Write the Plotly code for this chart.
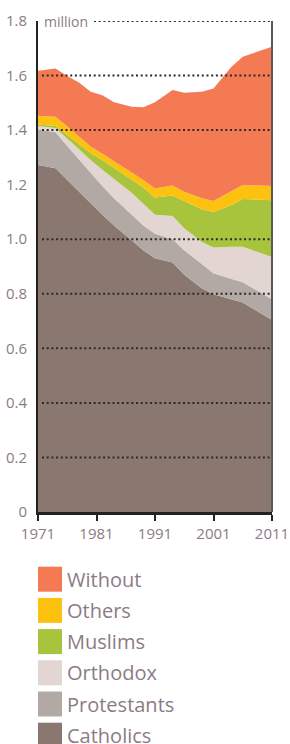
import plotly.graph_objects as go

years = [1971, 1974, 1976, 1978, 1980, 1982, 1984, 1987, 1989, 1991,
         1994, 1996, 1999, 2001, 2004, 2006, 2011]
catholics = [1.272, 1.260, 1.217, 1.174, 1.130, 1.090, 1.050, 0.995, 0.960, 0.930,
             0.915, 0.870, 0.820, 0.798, 0.780, 0.768, 0.704]
protestants = [0.131, 0.132, 0.125, 0.118, 0.112, 0.105, 0.100, 0.095, 0.090, 0.090,
               0.085, 0.090, 0.090, 0.077, 0.075, 0.074, 0.076]
orthodox = [0.012, 0.016, 0.027, 0.038, 0.048, 0.060, 0.070, 0.080, 0.080, 0.070,
            0.085, 0.080, 0.080, 0.095, 0.117, 0.130, 0.155]
muslims = [0.006, 0.007, 0.013, 0.020, 0.025, 0.035, 0.042, 0.050, 0.060, 0.063,
           0.075, 0.100, 0.120, 0.130, 0.153, 0.175, 0.208]
others = [0.032, 0.034, 0.031, 0.027, 0.025, 0.023, 0.024, 0.025, 0.027, 0.033,
          0.037, 0.034, 0.040, 0.040, 0.050, 0.052, 0.052]
without = [0.165, 0.177, 0.185, 0.198, 0.201, 0.215, 0.216, 0.241, 0.267, 0.316,
           0.350, 0.363, 0.391, 0.413, 0.455, 0.470, 0.511]

x_ticks = [1971, 1981, 1991, 2001, 2011]
y_ticks = [0, 0.2, 0.4, 0.6, 0.8, 1.0, 1.2, 1.4, 1.6, 1.8]
y_tick_labels = ["0", "0.2", "0.4", "0.6", "0.8", "1.0", "1.2", "1.4", "1.6", "1.8"]
grid_values = [0.2, 0.4, 0.6, 0.8, 1.0, 1.4, 1.6]

series = [
    ("Catholics", catholics, "#8a7770"),
    ("Protestants", protestants, "#b3a9a4"),
    ("Orthodox", orthodox, "#e2d5d2"),
    ("Muslims", muslims, "#a8c43c"),
    ("Others", others, "#fdc210"),
    ("Without", without, "#f47a53"),
]

TEXT = "#8b7b85"
FONT = "Open Sans"

W, H = 290, 744
L, R, T, B = 38, 272, 21, 512

fig = go.Figure()
for name, vals, col in series:
    fig.add_trace(go.Scatter(
        x=years, y=vals, name=name, stackgroup="one", mode="lines",
        line=dict(width=0, color=col), fillcolor=col, showlegend=False,
    ))

def py(p):
    return (B - p) / (B - T)

def px(p):
    return (p - L) / (R - L)

shapes = []
for v in grid_values:
    shapes.append(dict(type="line", xref="paper", yref="y",
                       x0=px(42), x1=1, y0=v, y1=v,
                       line=dict(color="#2a2a2a", width=2, dash="2px,2.7px")))
shapes.append(dict(type="line", xref="paper", yref="y",
                   x0=px(94), x1=1, y0=1.8, y1=1.8,
                   line=dict(color="#2a2a2a", width=2, dash="2px,2.7px")))
shapes.append(dict(type="line", xref="paper", yref="paper",
                   x0=1, x1=1, y0=0, y1=1,
                   line=dict(color="#5a5a5a", width=2)))

annotations = [dict(text="million", xref="paper", yref="y", x=px(42), y=1.8,
                    xanchor="left", yanchor="middle", showarrow=False,
                    font=dict(family=FONT, size=14, color=TEXT))]

legend_items = list(reversed(series))
top0 = 566.7
step = 31.2
for i, (name, vals, col) in enumerate(legend_items):
    y0 = top0 + i * step
    y1 = y0 + 25
    shapes.append(dict(type="rect", xref="paper", yref="paper",
                       x0=px(38), x1=px(62),
                       y0=py(y1), y1=py(y0),
                       fillcolor=col, line=dict(width=0)))
    annotations.append(dict(text=name, xref="paper", yref="paper",
                            x=px(65), y=py((y0 + y1) / 2),
                            xanchor="left", yanchor="middle", showarrow=False,
                            font=dict(family=FONT, size=20, color=TEXT)))

fig.update_layout(
    width=W, height=H,
    margin=dict(l=L, r=W - R, t=T, b=H - B, autoexpand=False),
    paper_bgcolor="white", plot_bgcolor="white",
    showlegend=False, hovermode=False,
    shapes=shapes, annotations=annotations,
    font=dict(family=FONT, color=TEXT),
    xaxis=dict(range=[1971, 2011], tickmode="array", tickvals=x_ticks,
               ticktext=[str(t) for t in x_ticks], automargin=False,
               showgrid=False, zeroline=False, showline=True,
               linecolor="#222222", linewidth=2.5,
               ticks="outside", ticklen=6, tickwidth=2, tickcolor="#222222",
               tickfont=dict(family=FONT, size=15, color=TEXT)),
    yaxis=dict(range=[0, 1.8], tickmode="array", tickvals=y_ticks,
               ticktext=y_tick_labels, automargin=False,
               showgrid=False, zeroline=False, showline=True,
               linecolor="#222222", linewidth=2, ticks="",
               ticklabelstandoff=6,
               tickfont=dict(family=FONT, size=15, color=TEXT)),
)

fig.write_html(
    "out.html",
    config={"displayModeBar": False, "staticPlot": True},
    post_script="document.body.style.margin='0';document.body.style.overflow='hidden';",
)
